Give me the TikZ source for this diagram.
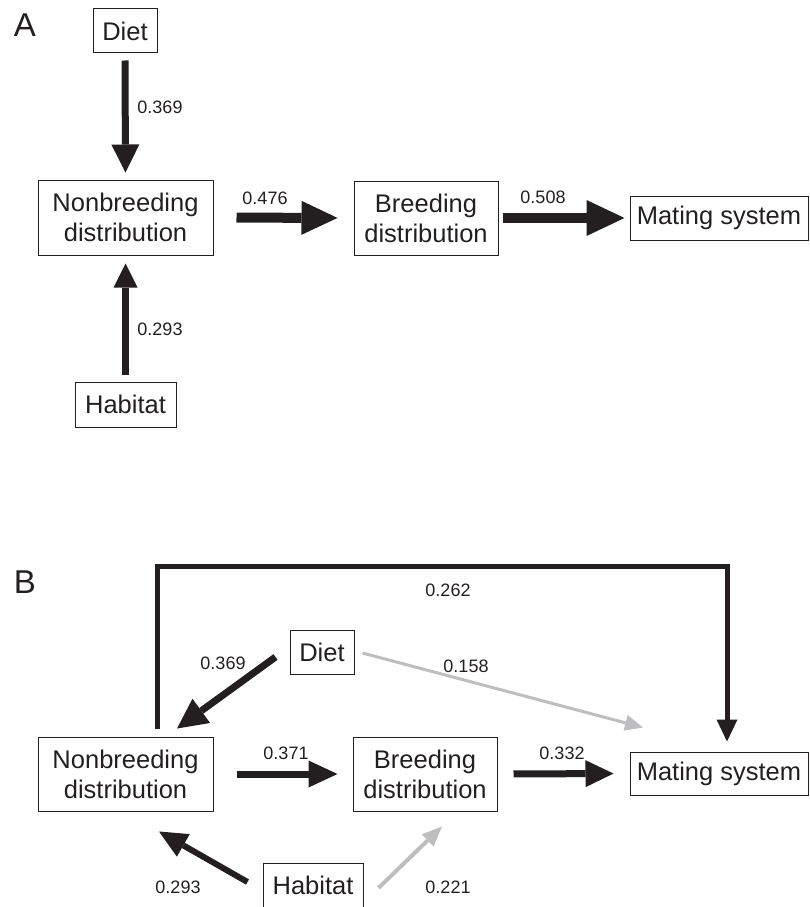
\documentclass[tikz,border=0pt]{standalone}
\usepackage{fontspec}
\setmainfont{Liberation Sans}
\usetikzlibrary{arrows.meta,calc}
\definecolor{ink}{RGB}{35,31,32}
\definecolor{lite}{RGB}{190,190,192}
\tikzset{
  box/.style={draw=ink, line width=1pt, inner sep=0pt, align=center, text=ink,
    font=\fontsize{25.5}{30}\selectfont},
  lbl/.style={text=ink, inner sep=0pt, font=\fontsize{18}{20}\selectfont},
  panel/.style={text=ink, inner sep=0pt, font=\fontsize{33}{36}\selectfont},
  blk/.style={draw=ink, line width=#1},
  gry/.style={draw=lite, line width=#1},
}
\newcommand{\tri}[2]{-{Triangle[length=#1pt,width=#2pt,line width=0pt]}}
\begin{document}
\begin{tikzpicture}[x=1pt,y=-1pt]
\useasboundingbox (0,0) rectangle (809,907);
% ---------- Panel A ----------
\node[panel] (labA) at (25,25) {A};
\node[box, minimum width=64pt, minimum height=44pt] (dietA) at (125,31) {Diet};
\node[box, minimum width=175pt, minimum height=75pt] (nonA) at (125.5,217.5) {Nonbreeding\\distribution};
\node[box, minimum width=144pt, minimum height=74pt] (breA) at (426,218) {Breeding\\distribution};
\node[box, minimum width=178pt, minimum height=44pt] (matA) at (719,218) {Mating system};
\node[box, minimum width=101pt, minimum height=45pt] (habA) at (125.5,404.5) {Habitat};

\draw[blk=7pt, \tri{28}{28}, shorten <=7pt, shorten >=7pt] (dietA.south) -- (nonA.north);
\draw[blk=7pt, \tri{24}{24}, shorten <=7pt, shorten >=8pt] (habA.north) -- (nonA.south);
\draw[blk=10pt, \tri{36}{34}, shorten <=23pt, shorten >=16pt] (nonA.east) -- (breA.west);
\draw[blk=10pt, \tri{38}{36}, shorten <=4pt, shorten >=5pt] (breA.east) -- (matA.west);

\node[lbl] (a1) at (160,107) {0.369};
\node[lbl] (a2) at (160,329) {0.293};
\node[lbl] (a3) at (265,198) {0.476};
\node[lbl] (a4) at (543,197) {0.508};

% ---------- Panel B ----------
\node[panel] (labB) at (25,582) {B};
\node[box, minimum width=64pt, minimum height=44pt] (dietB) at (322,652) {Diet};
\node[box, minimum width=175pt, minimum height=74pt] (nonB) at (125.5,774) {Nonbreeding\\distribution};
\node[box, minimum width=144pt, minimum height=74pt] (breB) at (425,774) {Breeding\\distribution};
\node[box, minimum width=178pt, minimum height=43pt] (matB) at (719,773.5) {Mating system};
\node[box, minimum width=100pt, minimum height=45pt] (habB) at (313,885.5) {Habitat};

% loop Nonbreeding -> Mating system
\draw[blk=5pt, miter limit=10, \tri{22}{21}, shorten <=8pt, shorten >=10pt]
  ($(nonB.north)+(31.5,0)$) -- ++(0,-170) -| ($(matB.north)+(8,0)$);
% Diet -> Nonbreeding
\draw[blk=7pt, \tri{30}{30}] ($(dietB.west)+(-14,5)$) -- ($(nonB.north)+(51.5,-8)$);
% Diet -> Mating system (grey)
\draw[gry=3pt, \tri{18}{16}] ($(dietB.east)+(8,1)$) -- ($(matB.north)+(-76,-24)$);
% Nonbreeding -> Breeding
\draw[blk=7pt, \tri{29}{27}, shorten <=23pt, shorten >=15pt] (nonB.east) -- (breB.west);
% Breeding -> Mating system
\draw[blk=7pt, \tri{28}{27}, shorten <=16pt, shorten >=16pt] (breB.east) -- (matB.west);
% Habitat -> Nonbreeding
\draw[blk=6pt, \tri{28}{26}] ($(habB.west)+(-15,-3.5)$) -- ($(nonB.south)+(33.5,20)$);
% Habitat -> Breeding (grey)
\draw[gry=4pt, \tri{20}{17}] ($(habB.east)+(15,2.5)$) -- ($(breB.south)+(17,15)$);

\node[lbl] (b1) at (448,590) {0.262};
\node[lbl] (b2) at (223,663) {0.369};
\node[lbl] (b3) at (466,666) {0.158};
\node[lbl] (b4) at (286,753) {0.371};
\node[lbl] (b5) at (562,753) {0.332};
\node[lbl] (b6) at (178,887) {0.293};
\node[lbl] (b7) at (448,887) {0.221};
\end{tikzpicture}
\end{document}
